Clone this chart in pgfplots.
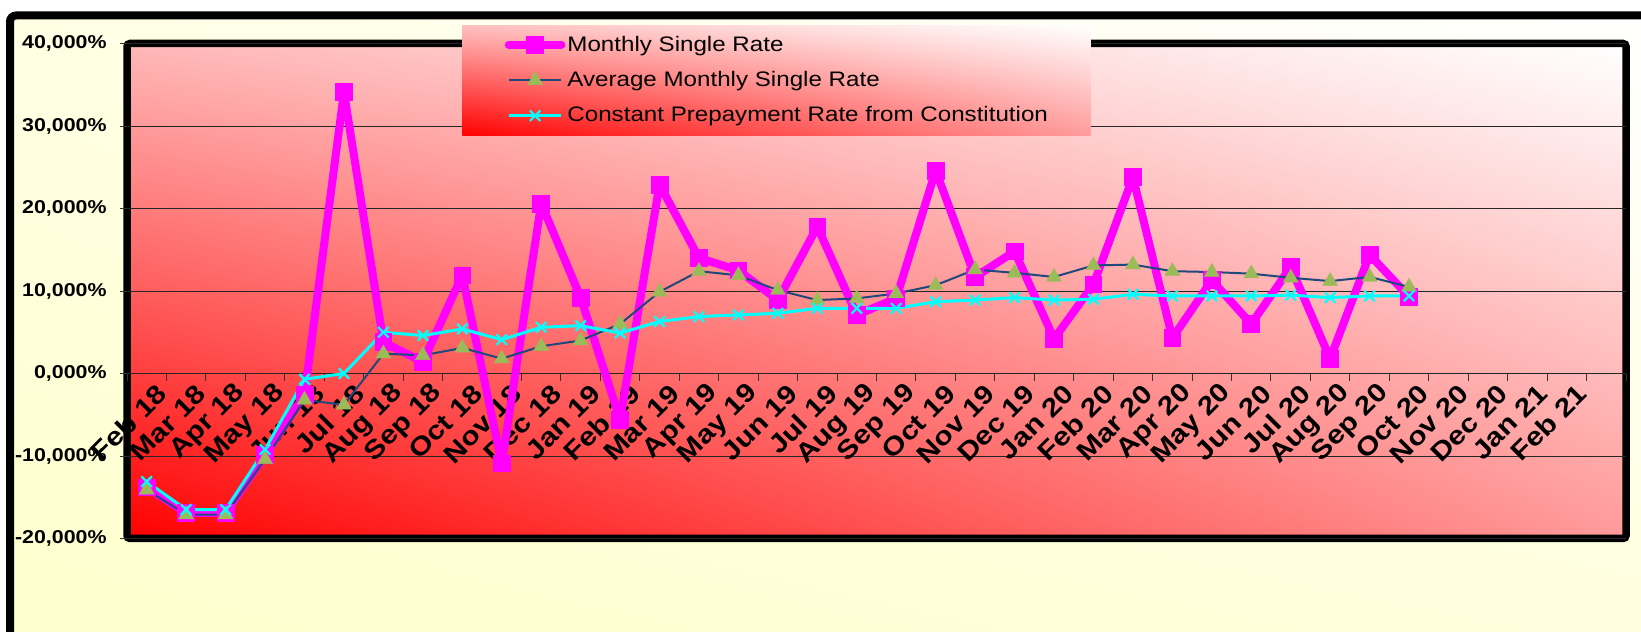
\documentclass[border=0pt]{standalone}
\usepackage{fontspec}
\setmainfont{Liberation Sans}[FakeStretch=1.15]
\usepackage{pgfplots}
\pgfplotsset{compat=1.18}
\usetikzlibrary{shadings}
\definecolor{msr}{HTML}{FF00FF}
\definecolor{avgline}{HTML}{1F497D}
\definecolor{avgmark}{HTML}{9BBB59}
\definecolor{cpr}{HTML}{00FFFF}
\definecolor{bgLL}{HTML}{FFFFCC}
\definecolor{bgUL}{HTML}{FFFFE4}
\definecolor{bgLR}{HTML}{FFFFDC}
\definecolor{plUL}{HTML}{FFB8B8}
\definecolor{plLR}{HTML}{FF9A9A}
\definecolor{lgUL}{HTML}{FFC0C0}
\definecolor{lgLR}{HTML}{FF9C9C}
\begin{document}
\begin{tikzpicture}
\useasboundingbox (0pt,0pt) rectangle (820.5pt,315.5pt);
\begin{scope}
\clip (0pt,0pt) rectangle (820.5pt,315.5pt);
\fill[white] (0pt,0pt) rectangle (820.5pt,315.5pt);
\shade[lower left=bgLL, upper left=bgUL, lower right=bgLR, upper right=white, rounded corners=3pt] (5pt,-20pt) rectangle (840pt,307.75pt);
\draw[line width=4pt, rounded corners=3pt] (5pt,-20pt) rectangle (840pt,307.75pt);
\shade[lower left=red, upper left=plUL, lower right=plLR, upper right=white] (63.5pt,46.25pt) rectangle (813pt,293.75pt);
\draw[line width=3.75pt, rounded corners=1.5pt] (63.5pt,46.25pt) rectangle (813pt,293.75pt);
\end{scope}
\begin{axis}[
  at={(63.5pt,46.25pt)}, anchor=south west,
  scale only axis, width=749.5pt, height=247.5pt,
  xmin=-0.5, xmax=37.5, ymin=-20, ymax=40,
  axis x line*=middle, axis y line*=left,
  axis line style={draw=none},
  hide obscured x ticks=false, hide obscured y ticks=false,
  xtick={0,...,36},
  xticklabels={Feb 18,Mar 18,Apr 18,May 18,Jun 18,Jul 18,Aug 18,Sep 18,Oct 18,Nov 18,Dec 18,Jan 19,Feb 19,Mar 19,Apr 19,May 19,Jun 19,Jul 19,Aug 19,Sep 19,Oct 19,Nov 19,Dec 19,Jan 20,Feb 20,Mar 20,Apr 20,May 20,Jun 20,Jul 20,Aug 20,Sep 20,Oct 20,Nov 20,Dec 20,Jan 21,Feb 21},
  ytick={-20,-10,...,40},
  yticklabels={{-20,000\%},{-10,000\%},{0,000\%},{10,000\%},{20,000\%},{30,000\%},{40,000\%}},
  minor xtick={-0.5,0.5,...,37.5},
  minor ytick={-20,-10,...,40},
  major tick length=0pt, minor tick length=3.6pt,
  tick align=outside,
  every minor tick/.append style={black!80, line width=0.5pt},
  ymajorgrids,
  grid style={black!85, line width=0.5pt},
  xticklabel style={font=\bfseries\fontsize{13}{15}\selectfont, rotate=45, anchor=east, inner sep=0pt, yshift=-11pt},
  yticklabel style={font=\bfseries\fontsize{9.3}{11}\selectfont, anchor=east, inner sep=0pt, xshift=-10pt},
  legend image code/.code={\draw[mark repeat=2,mark phase=2,#1] plot coordinates {(0pt,0pt) (13.15pt,0pt) (26.3pt,0pt)};},
  legend cell align=left,
  legend style={at={(0.2235,1.0374)}, anchor=north west, draw=none,
    shade, lower left=red, upper left=lgUL, lower right=lgLR, upper right=white,
    inner xsep=21.2pt, inner ysep=5.2pt, row sep=8.6pt, column sep=1pt,
    font=\fontsize{10.5}{12}\selectfont, nodes={inner sep=0pt}},
]
\addplot[color=msr, line width=4pt, line join=round, line cap=round, mark=square*, mark size=4.2pt,
  mark options={solid, fill=msr, draw=msr, line width=0.4pt}] coordinates {
(0,-13.8) (1,-16.9) (2,-16.9) (3,-9.9) (4,-2.6) (5,34.1) (6,3.8) (7,1.4) (8,11.9) (9,-10.9)
(10,20.6) (11,9.2) (12,-5.6) (13,22.9) (14,14.0) (15,12.5) (16,8.9) (17,17.8) (18,7.1) (19,9.1)
(20,24.6) (21,11.7) (22,14.8) (23,4.2) (24,10.8) (25,23.8) (26,4.3) (27,11.3) (28,6.0) (29,12.9)
(30,1.8) (31,14.4) (32,9.3)};
\addlegendentry{Monthly Single Rate}
\addplot[color=avgline, line width=1pt, mark=triangle*, mark size=4.3pt,
  mark options={solid, fill=avgmark, draw=avgmark, line width=0.2pt}] coordinates {
(0,-14.1) (1,-17.1) (2,-17.1) (3,-10.4) (4,-3.2) (5,-3.8) (6,2.4) (7,2.2) (8,3.1) (9,1.8)
(10,3.3) (11,4.0) (12,6.0) (13,9.9) (14,12.4) (15,11.9) (16,10.1) (17,8.9) (18,9.1) (19,9.7)
(20,10.7) (21,12.6) (22,12.2) (23,11.7) (24,13.1) (25,13.2) (26,12.4) (27,12.3) (28,12.1) (29,11.6)
(30,11.2) (31,11.7) (32,10.5)};
\addlegendentry{Average Monthly Single Rate}
\addplot[color=cpr, line width=1.5pt, mark=x, mark size=3.7pt,
  mark options={solid, draw=cpr, line width=1.1pt}] coordinates {
(0,-13.1) (1,-16.5) (2,-16.5) (3,-9.2) (4,-0.7) (5,0.0) (6,5.0) (7,4.6) (8,5.4) (9,4.1)
(10,5.6) (11,5.8) (12,4.9) (13,6.3) (14,6.9) (15,7.1) (16,7.3) (17,7.9) (18,7.9) (19,7.9)
(20,8.7) (21,8.9) (22,9.2) (23,8.9) (24,9.0) (25,9.6) (26,9.4) (27,9.4) (28,9.4) (29,9.5)
(30,9.2) (31,9.4) (32,9.4)};
\addlegendentry{Constant Prepayment Rate from Constitution}
\end{axis}
\end{tikzpicture}
\end{document}
